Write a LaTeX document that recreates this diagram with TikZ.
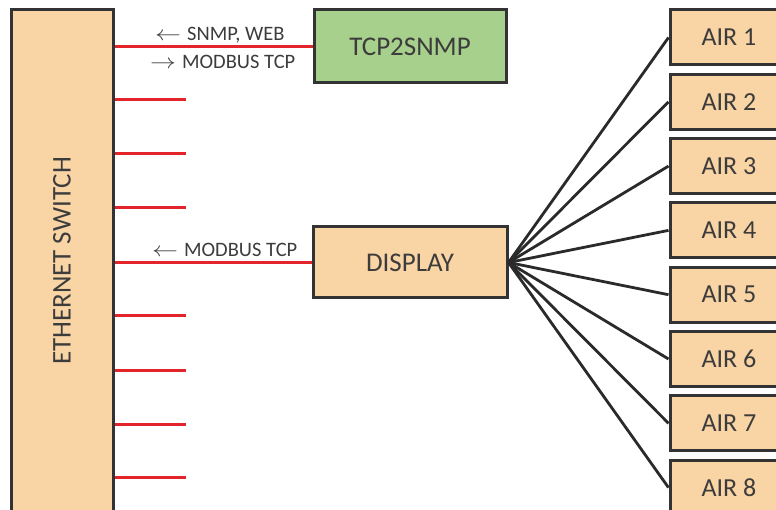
\documentclass[tikz,border=0pt]{standalone}
\usepackage{fontspec}
\setmainfont{Carlito}
\definecolor{peach}{HTML}{F9D4A4}
\definecolor{leaf}{HTML}{A8D08D}
\definecolor{bordc}{HTML}{333333}
\definecolor{redc}{HTML}{E3242B}
\definecolor{txtc}{HTML}{3C3C3C}
\definecolor{linec}{HTML}{2A2A2A}
\tikzset{
  box/.style={draw=bordc, line width=3pt, fill=peach, text=txtc, inner sep=0pt,
    font=\fontsize{26}{30}\selectfont},
  port/.style={draw=redc, line width=3pt},
  link/.style={draw=linec, line width=2.8pt},
  lbl/.style={text=txtc, font=\fontsize{20.5}{24}\selectfont, inner sep=0pt, anchor=west}
}
\begin{document}
\begin{tikzpicture}[x=1pt,y=-1pt]
\useasboundingbox (0,0) rectangle (776,510);
% ethernet switch
\node[box, minimum width=102pt, minimum height=504pt] (sw) at (62,262) {};
\node[text=txtc, rotate=90, font=\fontsize{27}{30}\selectfont] (swlabel) at (62,261) {ETHERNET SWITCH};
% devices
\node[box, fill=leaf, minimum width=192pt, minimum height=73pt, font=\fontsize{27}{30}\selectfont] (tcp) at (410,46.5) {TCP2SNMP};
\node[box, minimum width=194pt, minimum height=71pt, font=\fontsize{27}{30}\selectfont] (disp) at (410,262.5) {DISPLAY};
% AIR units
\foreach \i in {1,...,8}{
  \node[box, minimum width=118pt, minimum height=55pt] (air\i) at (729,{37.5+64.3*(\i-1)}) {AIR \i};
}
% ports
\foreach \y [count=\k] in {100,154,208,316,370,424,477}{
  \coordinate (p\k) at (186,\y);
  \draw[port] (sw.east |- p\k) -- (p\k);
}
\draw[port] (sw.east |- tcp.west) -- (tcp.west);
\draw[port] (sw.east |- disp.west) -- (disp.west);
% links
\foreach \i in {1,...,8}{
  \draw[link] (disp.east) -- (air\i.west);
}
% labels
\node[lbl] (l1) at (155,35) {\scalebox{1.25}[1]{$\leftarrow$}\hspace{6pt}SNMP, WEB};
\node[lbl] (l2) at (150,62) {\scalebox{1.25}[1]{$\rightarrow$}\hspace{6pt}MODBUS TCP};
\node[lbl] (l3) at (152,250) {\scalebox{1.25}[1]{$\leftarrow$}\hspace{6pt}MODBUS TCP};
\end{tikzpicture}
\end{document}
